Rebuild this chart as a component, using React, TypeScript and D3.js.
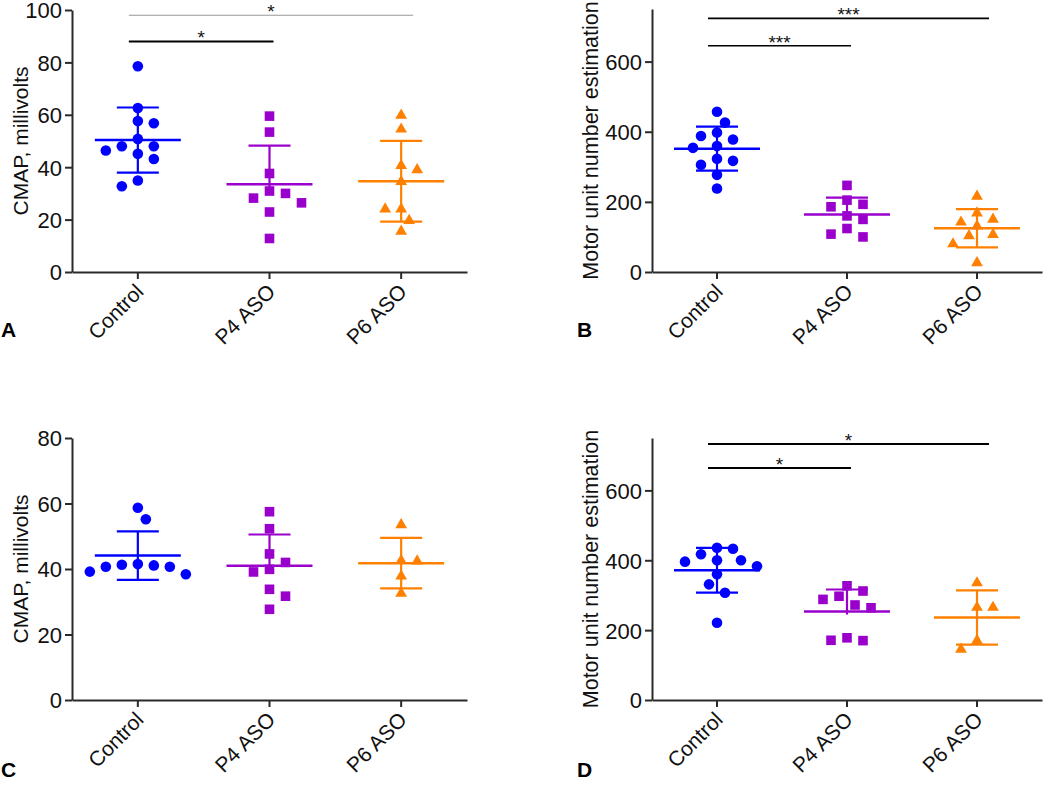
import React, { useEffect, useRef } from 'react';
import * as d3 from 'd3';

const groups = ['Control', 'P4 ASO', 'P6 ASO'];
const groupColors = ['#0000ff', '#9900cc', '#ff8000'];

// A: CMAP, first cohort (mV)
const cmapA_control = [78.5, 62.6, 57.6, 56.8, 50.8, 48, 48, 46.4, 45.1, 43.1, 34.9, 32.7];
const cmapA_p4 = [59.5, 53.4, 37.6, 30.9, 30.0, 28.2, 26.4, 22.9, 12.8];
const cmapA_p6 = [59.8, 54.5, 40.6, 39, 34.5, 24, 24, 19.6, 15.5];

// B: MUNE, first cohort
const muneB_control = [457, 426, 398, 378, 388, 354, 359, 317, 323, 306, 277, 238];
const muneB_p4 = [247, 205, 193, 186, 160, 150, 124, 108, 100];
const muneB_p6 = [216, 168, 150, 142, 131, 103, 107, 80, 26];

// C: CMAP, second cohort (mV)
const cmapC_control = [58.7, 55.2, 41.5, 41.1, 40.7, 38.4, 39.2, 40.7, 41.3];
const cmapC_p4 = [57.5, 52.3, 44.6, 42, 39.9, 39.1, 33.8, 31.7, 27.7];
const cmapC_p6 = [53.5, 42.4, 42.6, 37.8, 32.6];

// D: MUNE, second cohort
const muneD_control = [433, 436, 417, 400, 396, 400, 383, 360, 331, 307, 221];
const muneD_p4 = [327, 312, 297, 288, 272, 264, 178, 170, 171];
const muneD_p6 = [335, 265, 265, 170, 145];

const ticksCmapA = [0, 20, 40, 60, 80, 100];
const ticksCmapC = [0, 20, 40, 60, 80];
const ticksMune = [0, 200, 400, 600];

// significance comparisons (group index pairs, bar level in data units, label)
const sigPairs = [[0, 1], [0, 2]];
const sigLevelsA = [88, 98];
const sigLevelsB = [645, 723];
const sigLevelsD = [664, 733];
const sigLabelsA = ['*', '*'];
const sigLabelsB = ['***', '***'];
const sigLabelsD = ['*', '*'];

const FONT = '"Liberation Sans", Arial, Helvetica, sans-serif';

// simple beeswarm: spread overlapping points sideways in half-marker steps
function swarm(vals: number[], y: (v: number) => number, step: number, minDist: number) {
  const order = d3.range(vals.length).sort((a, b) => vals[b] - vals[a]);
  const placed: { x: number; y: number }[] = [];
  const offs: number[] = new Array(vals.length).fill(0);
  let flip = 1;
  order.forEach((i) => {
    const py = y(vals[i]);
    for (let k = 0; k < 30; k++) {
      const cands = k === 0 ? [0] : [flip * k * step, -flip * k * step];
      const ok = cands.filter((c) => placed.every((p) => Math.hypot(p.x - c, p.y - py) >= minDist));
      if (ok.length) {
        offs[i] = ok[0];
        if (ok[0] !== 0) flip = -Math.sign(ok[0]);
        placed.push({ x: ok[0], y: py });
        break;
      }
    }
  });
  return offs;
}

export default function App() {
  const ref = useRef<SVGSVGElement>(null);

  useEffect(() => {
    const svg = d3.select(ref.current);
    svg.selectAll('*').remove();

    const panels = [
      { letter: 'A', data: [cmapA_control, cmapA_p4, cmapA_p6], yMax: 100, ticks: ticksCmapA, title: 'CMAP, millivolts', titleSize: 21,
        left: 72, right: 467, top: 10, bottom: 272, titleX: 28, letterX: 1, letterY: 337,
        sigLevels: sigLevelsA, sigLabels: sigLabelsA, sigStyle: [{ c: '#000', w: 2 }, { c: '#999', w: 1.2 }] },
      { letter: 'B', data: [muneB_control, muneB_p4, muneB_p6], yMax: 750, ticks: ticksMune, title: 'Motor unit number estimation', titleSize: 21.5,
        left: 652, right: 1042, top: 9, bottom: 272, titleX: 598, letterX: 577, letterY: 337,
        sigLevels: sigLevelsB, sigLabels: sigLabelsB, sigStyle: [{ c: '#000', w: 1.6 }, { c: '#000', w: 1.8 }] },
      { letter: 'C', data: [cmapC_control, cmapC_p4, cmapC_p6], yMax: 80, ticks: ticksCmapC, title: 'CMAP, millivolts', titleSize: 21,
        left: 72, right: 467, top: 438, bottom: 700, titleX: 28, letterX: 1, letterY: 777,
        sigLevels: [] as number[], sigLabels: [] as string[], sigStyle: [] as { c: string; w: number }[] },
      { letter: 'D', data: [muneD_control, muneD_p4, muneD_p6], yMax: 750, ticks: ticksMune, title: 'Motor unit number estimation', titleSize: 21.5,
        left: 652, right: 1042, top: 438, bottom: 700, titleX: 598, letterX: 577, letterY: 777,
        sigLevels: sigLevelsD, sigLabels: sigLabelsD, sigStyle: [{ c: '#000', w: 2 }, { c: '#000', w: 2 }] },
    ];

    const symbols = [d3.symbolCircle, d3.symbolSquare, d3.symbolTriangle];
    const symbolSizes = [88, 92, 60];
    const lowerArm = [true, false, true];

    panels.forEach((p) => {
      const g = svg.append('g');
      const x = d3.scaleBand().domain(groups).range([p.left, p.right]);
      const y = d3.scaleLinear().domain([0, p.yMax]).range([p.bottom, p.top]);
      const cx = (i: number) => (x(groups[i]) as number) + x.bandwidth() / 2;

      // y axis
      const ya = g.append('g')
        .attr('transform', `translate(${p.left},0)`)
        .call(d3.axisLeft(y).tickValues(p.ticks).tickSize(7).tickSizeOuter(0).tickPadding(3).tickFormat(d3.format('d')));
      ya.select('.domain').attr('stroke', '#2a2a2a').attr('stroke-width', 2);
      ya.selectAll('.tick line').attr('stroke', '#2a2a2a').attr('stroke-width', 2);
      ya.selectAll('.tick text').attr('font-family', FONT).attr('font-size', 22).attr('fill', '#111').attr('dy', '0.36em');

      // x axis
      const xa = g.append('g')
        .attr('transform', `translate(0,${p.bottom})`)
        .call(d3.axisBottom(x).tickSize(7).tickSizeOuter(0));
      xa.select('.domain').attr('stroke', '#2a2a2a').attr('stroke-width', 2);
      xa.selectAll('.tick line').attr('stroke', '#2a2a2a').attr('stroke-width', 2);
      xa.selectAll('.tick text')
        .attr('font-family', FONT).attr('font-size', 21).attr('fill', '#111')
        .attr('x', 0).attr('y', 0).attr('dy', 0)
        .attr('text-anchor', 'end')
        .attr('transform', 'translate(7,21) rotate(-45)');

      // axis title
      g.append('text')
        .attr('transform', `translate(${p.titleX},${(p.top + p.bottom) / 2}) rotate(-90)`)
        .attr('text-anchor', 'middle')
        .attr('font-family', FONT).attr('font-size', p.titleSize).attr('fill', '#111')
        .text(p.title);

      // panel letter
      g.append('text')
        .attr('x', p.letterX).attr('y', p.letterY)
        .attr('font-family', FONT).attr('font-size', 21).attr('font-weight', 'bold')
        .text(p.letter);

      // points, mean and SD
      p.data.forEach((vals, i) => {
        const col = groupColors[i];
        const offs = swarm(vals, y, 8, 12.5);
        const sym = d3.symbol().type(symbols[i]).size(symbolSizes[i]);

        const m = d3.mean(vals) as number;
        const sd = d3.deviation(vals) as number;
        const lo = lowerArm[i] ? m - sd : m;
        g.append('line')
          .attr('x1', cx(i)).attr('x2', cx(i))
          .attr('y1', y(m + sd)).attr('y2', y(lo) + (lowerArm[i] ? 0 : 3))
          .attr('stroke', col).attr('stroke-width', 2.2);
        g.append('line')
          .attr('x1', cx(i) - 21).attr('x2', cx(i) + 21)
          .attr('y1', y(m + sd)).attr('y2', y(m + sd))
          .attr('stroke', col).attr('stroke-width', 2.2);
        if (lowerArm[i]) {
          g.append('line')
            .attr('x1', cx(i) - 21).attr('x2', cx(i) + 21)
            .attr('y1', y(m - sd)).attr('y2', y(m - sd))
            .attr('stroke', col).attr('stroke-width', 2.2);
        }
        g.append('line')
          .attr('x1', cx(i) - 43).attr('x2', cx(i) + 43)
          .attr('y1', y(m)).attr('y2', y(m))
          .attr('stroke', col).attr('stroke-width', 2.5);

        g.append('g').selectAll('path')
          .data(vals)
          .join('path')
          .attr('d', sym as any)
          .attr('transform', (v, j) => `translate(${cx(i) + offs[j]},${y(v)})`)
          .attr('fill', col);
      });

      // significance bars
      p.sigLevels.forEach((lvl, k) => {
        const [a, b] = sigPairs[k];
        const x1 = cx(a) - 9;
        const x2 = cx(b) + (b === 1 ? 4 : 12);
        const st = p.sigStyle[k];
        g.append('line')
          .attr('x1', x1).attr('x2', x2)
          .attr('y1', y(lvl)).attr('y2', y(lvl))
          .attr('stroke', st.c).attr('stroke-width', st.w);
        g.append('text')
          .attr('x', (x1 + x2) / 2).attr('y', y(lvl) + 3)
          .attr('text-anchor', 'middle')
          .attr('font-family', FONT).attr('font-size', 19).attr('fill', '#111')
          .text(p.sigLabels[k]);
      });
    });
  }, []);

  return (
    <svg
      ref={ref}
      width={1050}
      height={786}
      style={{ position: 'absolute', left: 0, top: 0, background: '#fff' }}
    />
  );
}
